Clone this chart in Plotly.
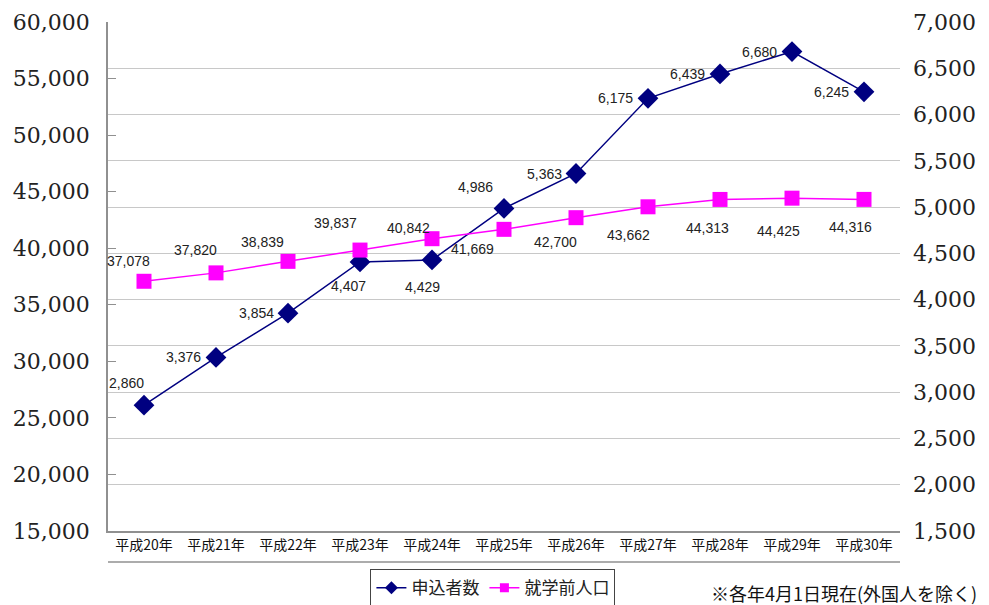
import plotly.graph_objects as go

categories = ["平成20年", "平成21年", "平成22年", "平成23年", "平成24年", "平成25年",
              "平成26年", "平成27年", "平成28年", "平成29年", "平成30年"]
applicants = [2860, 3376, 3854, 4407, 4429, 4986, 5363, 6175, 6439, 6680, 6245]
preschool = [37078, 37820, 38839, 39837, 40842, 41669, 42700, 43662, 44313, 44425, 44316]

left_ticks = [15000, 20000, 25000, 30000, 35000, 40000, 45000, 50000, 55000, 60000]
right_ticks = [1500, 2000, 2500, 3000, 3500, 4000, 4500, 5000, 5500, 6000, 6500, 7000]

# label offsets (pixels) for data labels
app_off = [(-18, -22), (-33, 0), (-32, 0), (-12, 24), (-10, 27), (-29, -21),
           (-32, 0), (-33, 0), (-33, 0), (-33, 0), (-33, 0)]
pre_off = [(-16, -20), (-21, -23), (-26, -19), (-25, -27), (-24, -11), (-32, 20),
           (-21, 24), (-20, 28), (-13, 29), (-14, 33), (-14, 28)]

NAVY = "#000080"
MAG = "#FF00FF"

fig = go.Figure()
fig.add_trace(go.Scatter(
    x=categories, y=applicants, name="申込者数", yaxis="y",
    mode="lines+markers", showlegend=False,
    line=dict(color=NAVY, width=1.5),
    marker=dict(symbol="diamond", size=16, color=NAVY),
))
fig.add_trace(go.Scatter(
    x=categories, y=preschool, name="就学前人口", yaxis="y2",
    mode="lines+markers", showlegend=False,
    line=dict(color=MAG, width=1.5),
    marker=dict(symbol="square", size=15, color=MAG),
))
# legend entries with smaller symbols
fig.add_trace(go.Scatter(
    x=[None], y=[None], name="申込者数", yaxis="y", mode="lines+markers",
    line=dict(color=NAVY, width=1.5), marker=dict(symbol="diamond", size=10, color=NAVY),
))
fig.add_trace(go.Scatter(
    x=[None], y=[None], name="就学前人口", yaxis="y2", mode="lines+markers",
    line=dict(color=MAG, width=1.5), marker=dict(symbol="square", size=9, color=MAG),
))

annos = []
lab_font = dict(family="Liberation Sans, Arial", size=14, color="#222222")
for c, v, (dx, dy) in zip(categories, applicants, app_off):
    annos.append(dict(x=c, y=v, xref="x", yref="y", text=f"{v:,}", showarrow=False,
                      xshift=dx, yshift=-dy, font=lab_font))
for c, v, (dx, dy) in zip(categories, preschool, pre_off):
    annos.append(dict(x=c, y=v, xref="x", yref="y2", text=f"{v:,}", showarrow=False,
                      xshift=dx, yshift=-dy, font=lab_font))
annos.append(dict(x=1.10, y=-0.122, xref="paper", yref="paper", xanchor="right", yanchor="middle",
                  text="※各年4月1日現在(外国人を除く)", showarrow=False,
                  font=dict(family="Noto Sans CJK JP", size=18, color="#111111")))

fig.update_layout(
    width=989, height=605,
    margin=dict(l=108, r=89, t=22, b=74, autoexpand=False),
    paper_bgcolor="white", plot_bgcolor="white",
    showlegend=True,
    legend=dict(orientation="h", x=0.486, xanchor="center", y=-0.075, yanchor="top",
                bordercolor="#444444", borderwidth=1,
                font=dict(family="Noto Sans CJK JP", size=17, color="#222222"),
                itemwidth=30, tracegroupgap=0),
    xaxis=dict(
        type="category", range=[-0.5, 10.5],
        showline=True, linecolor="#909090", linewidth=1.5,
        showgrid=False, ticks="",
        tickfont=dict(family="Noto Sans CJK JP", size=14, color="#111111"),
    ),
    yaxis=dict(
        side="right", range=[1500, 7000], tickvals=right_ticks,
        tickformat=",d", showgrid=True, gridcolor="#c8c8c8", gridwidth=1.2,
        showline=False, ticks="", zeroline=False,
        ticklabelstandoff=12,
        tickfont=dict(family="DejaVu Serif", size=22, color="#222222"),
    ),
    yaxis2=dict(
        overlaying="y", side="left", range=[15000, 60000], tickvals=left_ticks,
        tickformat=",d", showgrid=False, zeroline=False,
        showline=True, linecolor="#909090", linewidth=1.5,
        ticks="inside", ticklen=8, tickcolor="#909090",
        ticklabelstandoff=12,
        tickfont=dict(family="DejaVu Serif", size=22, color="#222222"),
    ),
    annotations=annos,
    shapes=[dict(type="line", xref="paper", yref="paper", x0=0, x1=1, y0=-0.061, y1=-0.061,
                 line=dict(color="#909090", width=1.5))],
)

fig.write_html("out.html")
